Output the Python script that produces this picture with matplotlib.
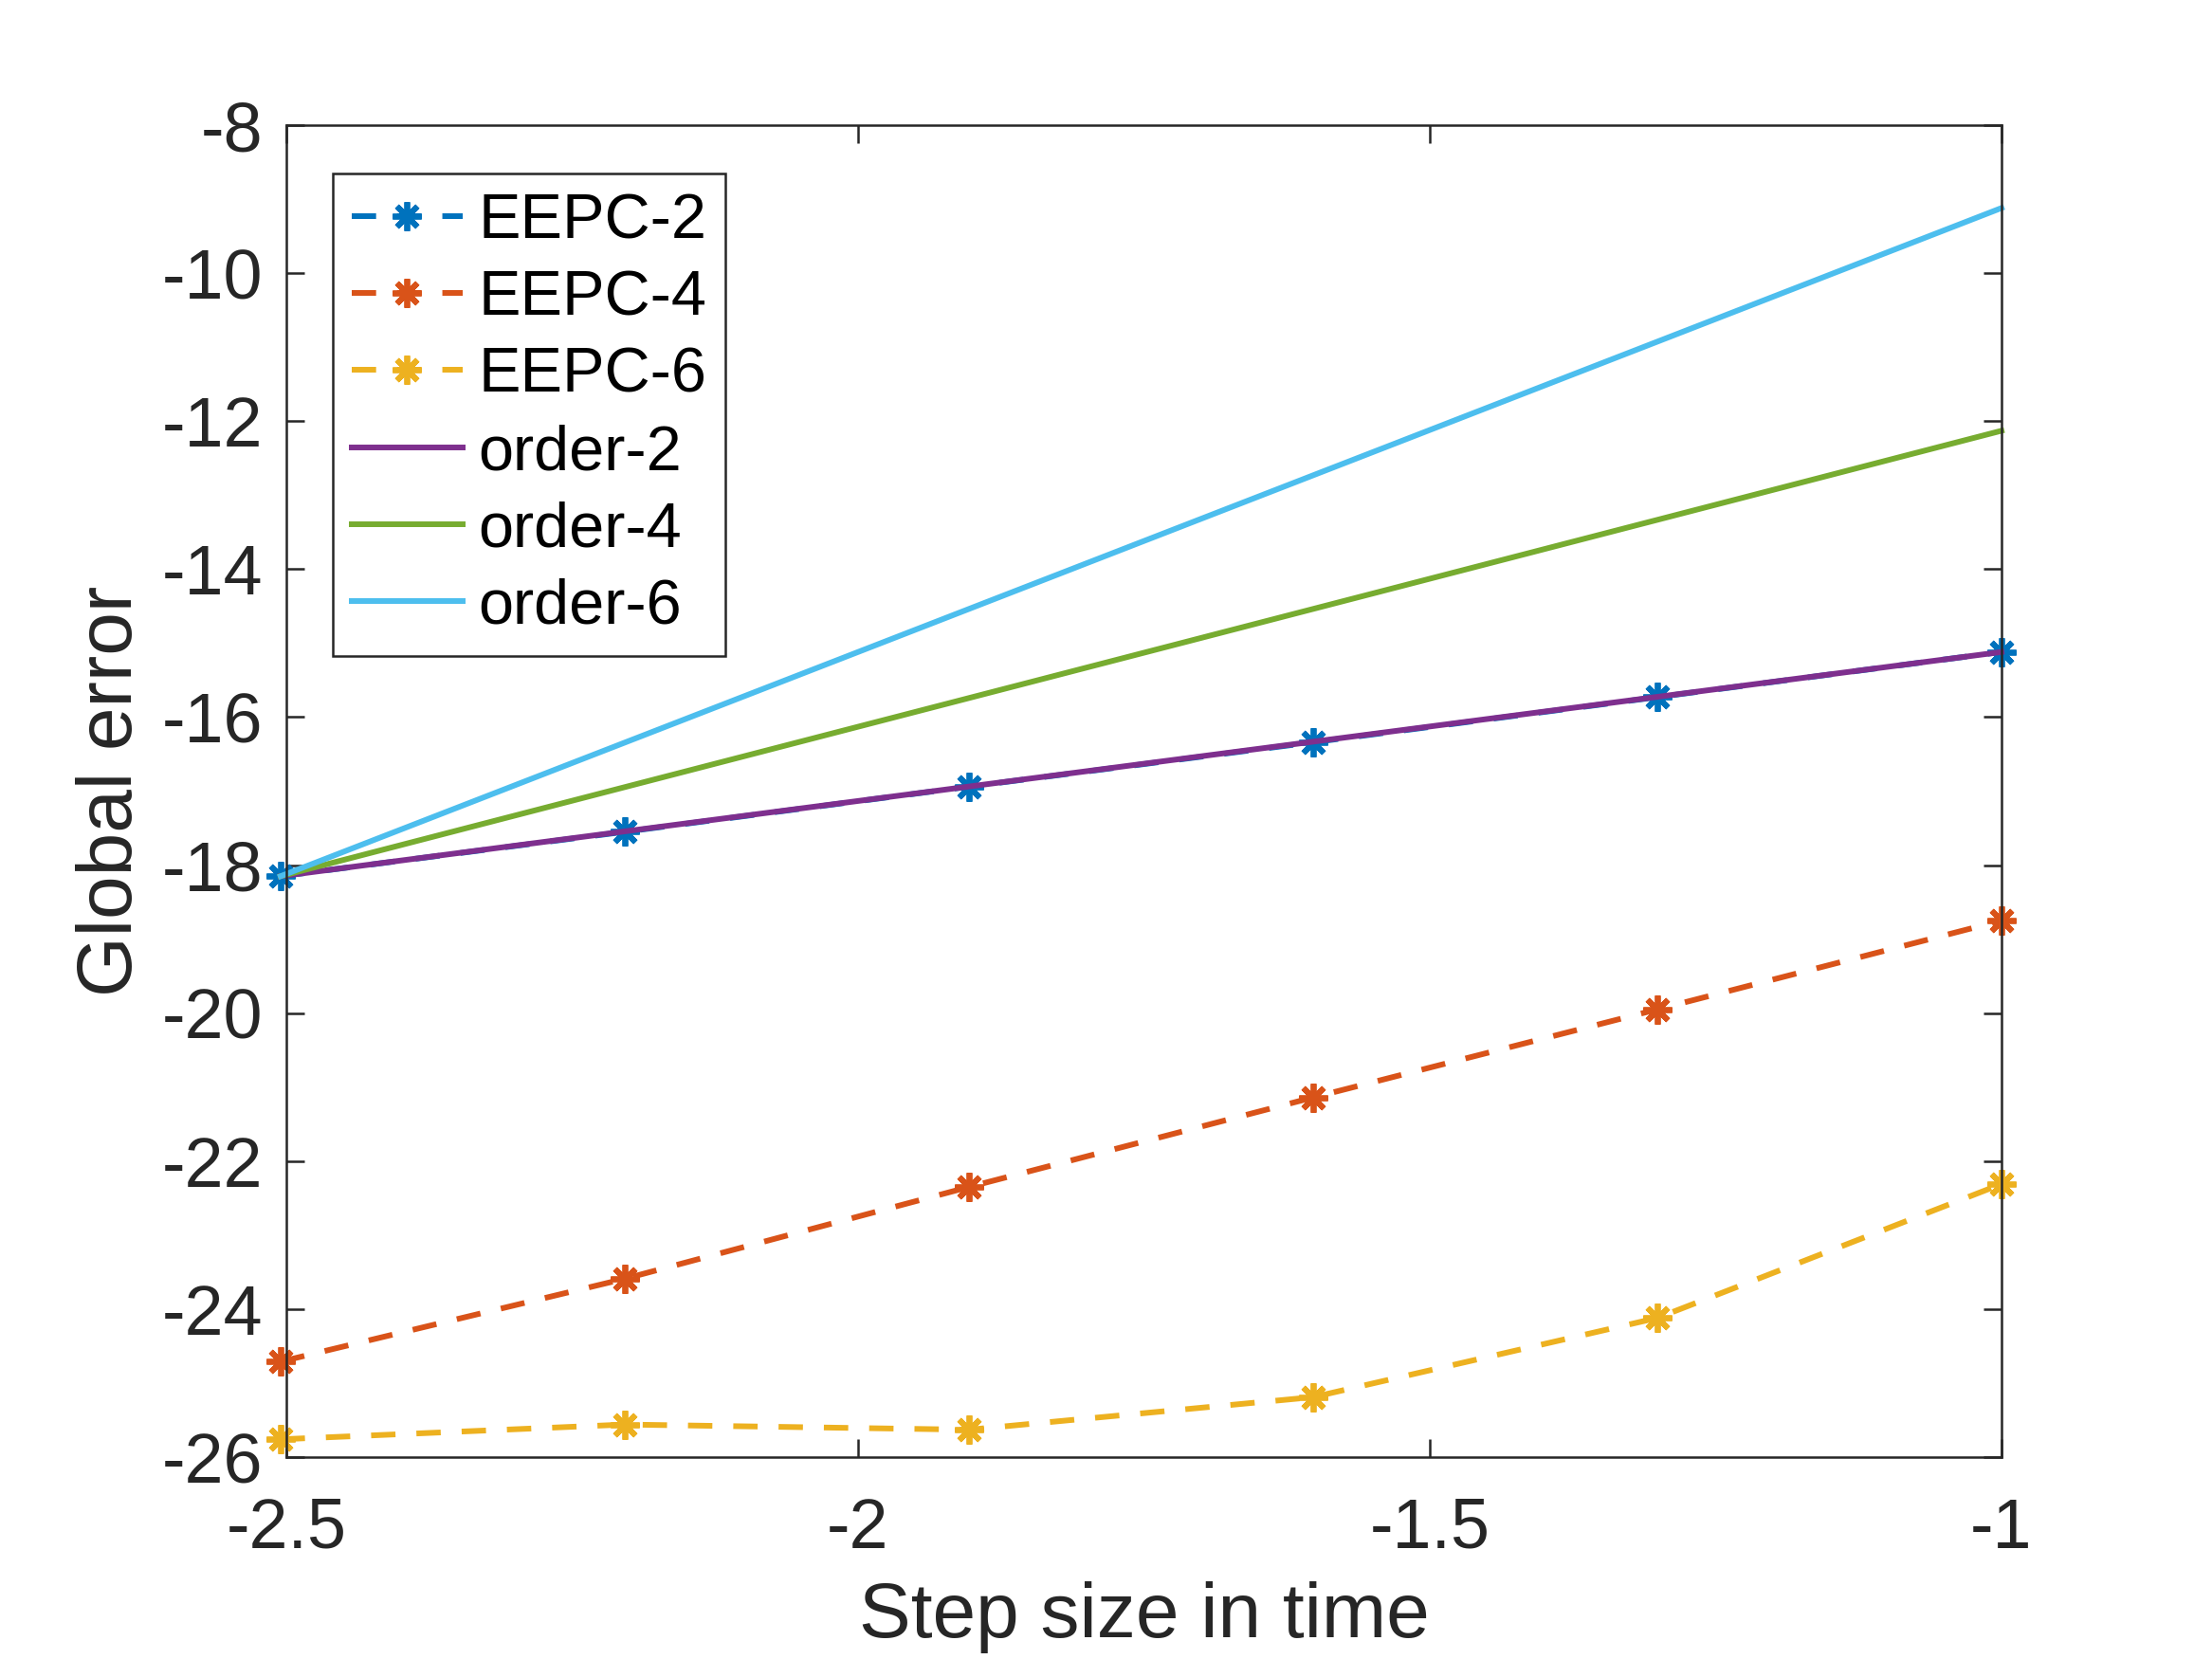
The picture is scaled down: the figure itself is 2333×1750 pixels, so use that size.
import matplotlib
matplotlib.use("Agg")
import matplotlib.pyplot as plt

# ---- data ----
step_log = [-2.505, -2.204, -1.903, -1.602, -1.301, -1.0]
eepc2 = [-18.15, -17.55, -16.94, -16.34, -15.73, -15.12]
eepc4 = [-24.71, -23.59, -22.35, -21.14, -19.95, -18.75]
eepc6 = [-25.76, -25.56, -25.63, -25.19, -24.12, -22.31]
order_x = [-2.505, -1.0]
order2 = [-18.15, -15.12]
order4 = [-18.15, -12.13]
order6 = [-18.15, -9.12]
xticks = [-2.5, -2.0, -1.5, -1.0]
xticklabels = ["-2.5", "-2", "-1.5", "-1"]
yticks = list(range(-26, -7, 2))
yticklabels = [str(v) for v in yticks]

plt.rcParams['font.family'] = ['Liberation Sans', 'DejaVu Sans']
plt.rcParams['axes.unicode_minus'] = False

W, H, DPI = 2333, 1750, 200
fig = plt.figure(figsize=(W / DPI, H / DPI), dpi=DPI)
ax = fig.add_axes([302 / W, 1 - 1537 / H, (2111 - 302) / W, (1537 - 132) / H])

lw = 2.15
ms = 11
mew = 2.1
star = (8, 2, 0)
dash = (4.3, 3.7)

c_blue = '#0072BD'
c_orange = '#D95319'
c_yellow = '#EDB120'
c_purple = '#7E2F8E'
c_green = '#77AC30'
c_cyan = '#4DBEEE'

ax.plot(step_log, eepc2, color=c_blue, lw=lw, ls='--', dashes=dash, marker=star,
        ms=ms, mew=mew, label='EEPC-2', clip_on=False)
ax.plot(step_log, eepc4, color=c_orange, lw=lw, ls='--', dashes=dash, marker=star,
        ms=ms, mew=mew, label='EEPC-4', clip_on=False)
ax.plot(step_log, eepc6, color=c_yellow, lw=lw, ls='--', dashes=dash, marker=star,
        ms=ms, mew=mew, label='EEPC-6', clip_on=False)
ax.plot(order_x, order2, color=c_purple, lw=lw, label='order-2', clip_on=False)
ax.plot(order_x, order4, color=c_green, lw=lw, label='order-4', clip_on=False)
ax.plot(order_x, order6, color=c_cyan, lw=lw, label='order-6', clip_on=False)

ax.set_xlim(-2.5, -1.0)
ax.set_ylim(-26, -8)
ax.set_xticks(xticks)
ax.set_xticklabels(xticklabels)
ax.set_yticks(yticks)
ax.set_yticklabels(yticklabels)

axc = '#262626'
for s in ax.spines.values():
    s.set_color(axc)
    s.set_linewidth(0.9)
ax.tick_params(direction='in', length=6.8, width=0.9, color=axc,
               labelcolor=axc, labelsize=26.5, top=True, right=True)
ax.tick_params(axis='x', pad=15)
ax.tick_params(axis='y', pad=9)

ax.set_xlabel('Step size in time', fontsize=29.5, color=axc, labelpad=7.5)
ax.set_ylabel('Global error', fontsize=29.5, color=axc, labelpad=5.3)

leg = ax.legend(loc='upper left', bbox_to_anchor=((351 - 302) / 1809, (1537 - 183) / 1405),
                borderaxespad=0, fontsize=24, handlelength=1.75, handletextpad=0.25,
                labelspacing=0.29, borderpad=0.3, numpoints=1, fancybox=False,
                framealpha=1, edgecolor=axc)
leg.get_frame().set_linewidth(0.9)

fig.savefig('out.png', dpi=DPI)
